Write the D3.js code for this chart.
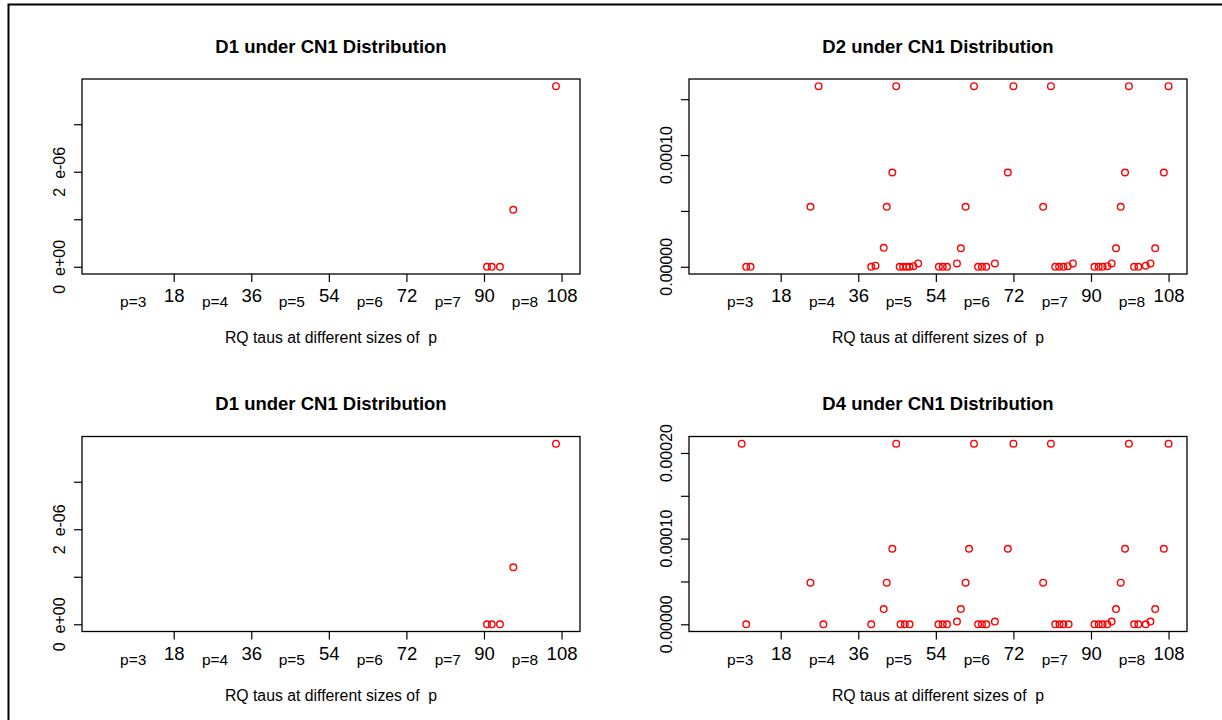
<!DOCTYPE html>
<html>
<head>
<meta charset="utf-8">
<script src="https://d3js.org/d3.v7.min.js"></script>
<style>
    body { margin: 0; background: #fff; }
    svg { font-family: "Liberation Sans", Arial, sans-serif; }
    .ylab { white-space: pre; }
</style>
</head>
<body>
<div id="chart"></div>
<script>
// x axis: tick values, group labels and where they sit
var xTicks = [18, 36, 54, 72, 90, 108];
var pLabels = ['p=3', 'p=4', 'p=5', 'p=6', 'p=7', 'p=8'];
var pPos = [8.6, 27.6, 45.4, 63.5, 81.6, 99.5];
var xRange = [1, 108];

// D1 under CN1 (same in both left panels)
var d1X = [90.7, 91.8, 93.7, 96.8, 106.7];
var d1Y = [0, 0, 0, 1.2e-6, 3.8e-6];

// D2 under CN1
var d2X = [10.0, 11.0, 24.9, 26.8, 39.0, 40.0, 41.9, 42.6, 43.9, 44.8,
           45.6, 46.4, 47.2, 47.9, 48.8, 49.9, 54.7, 55.6, 56.6, 58.9,
           59.8, 60.9, 62.85, 63.8, 64.7, 65.7, 67.7, 70.7, 72.0, 78.9,
           80.7, 81.7, 82.6, 83.6, 84.6, 85.8, 90.8, 91.8, 92.7, 93.8,
           94.8, 95.8, 96.9, 97.9, 98.8, 100.0, 101.0, 102.7, 103.8, 104.9,
           106.9, 108.0];
var d2Y = [0, 0, 5.37e-5, 1.616e-4, 0, 1e-6, 1.7e-5, 5.37e-5, 8.44e-5, 1.616e-4,
           0, 0, 0, 0, 5e-7, 3e-6, 0, 0, 0, 3e-6,
           1.65e-5, 5.37e-5, 1.616e-4, 0, 0, 0, 3e-6, 8.44e-5, 1.616e-4, 5.37e-5,
           1.616e-4, 0, 0, 0, 5e-7, 3e-6, 0, 0, 0, 5e-7,
           3e-6, 1.65e-5, 5.37e-5, 8.44e-5, 1.616e-4, 0, 0, 1e-6, 3e-6, 1.65e-5,
           8.44e-5, 1.616e-4];

// D4 under CN1
var d4X = [8.95, 10.0, 24.9, 27.9, 39.0, 41.9, 42.6, 43.9, 44.8, 45.8,
           46.8, 47.9, 54.6, 55.6, 56.6, 58.9, 59.8, 60.9, 61.7, 62.85,
           63.8, 64.7, 65.7, 67.7, 70.7, 72.0, 78.9, 80.7, 81.7, 82.7,
           83.6, 84.8, 90.8, 91.8, 92.7, 93.8, 94.8, 95.8, 96.9, 97.9,
           98.8, 100.0, 101.0, 102.7, 103.8, 104.9, 106.9, 108.0];
var d4Y = [2.108e-4, 0, 4.86e-5, 0, 0, 1.78e-5, 4.86e-5, 8.82e-5, 2.108e-4, 0,
           0, 0, 0, 0, 0, 3.1e-6, 1.78e-5, 4.86e-5, 8.82e-5, 2.108e-4,
           0, 0, 0, 3.1e-6, 8.82e-5, 2.108e-4, 4.86e-5, 2.108e-4, 0, 0,
           0, 0, 0, 0, 0, 0, 3.1e-6, 1.78e-5, 4.86e-5, 8.82e-5,
           2.108e-4, 0, 0, 0, 3.1e-6, 1.78e-5, 8.82e-5, 2.108e-4];

// y ticks and their labels ('' = tick only)
var d1Ticks = [0, 1e-6, 2e-6, 3e-6];
var d1TickLabels = ['0  e+00', '', '2  e-06', ''];
var d2Ticks = [0, 5e-5, 1e-4, 1.5e-4];
var d2TickLabels = ['0.00000', '', '0.00010', ''];
var d4Ticks = [0, 5e-5, 1e-4, 1.5e-4, 2e-4];
var d4TickLabels = ['0.00000', '', '0.00010', '', '0.00020'];

var W = 1222, H = 720;
var boxW = 498, boxH = 195;

var panels = [
    {title: 'D1 under CN1 Distribution', xs: d1X, ys: d1Y, ticks: d1Ticks, labels: d1TickLabels, left: 82, top: 79},
    {title: 'D2 under CN1 Distribution', xs: d2X, ys: d2Y, ticks: d2Ticks, labels: d2TickLabels, left: 689, top: 79},
    {title: 'D1 under CN1 Distribution', xs: d1X, ys: d1Y, ticks: d1Ticks, labels: d1TickLabels, left: 82, top: 436.5},
    {title: 'D4 under CN1 Distribution', xs: d4X, ys: d4Y, ticks: d4Ticks, labels: d4TickLabels, left: 689, top: 436.5}
];

var svg = d3.select('#chart').append('svg')
    .attr('width', W)
    .attr('height', H);

svg.append('rect').attr('width', W).attr('height', H).attr('fill', '#fff');

// outer device frame (left and top edges visible)
svg.append('path')
    .attr('d', 'M8.5,720V4.5H1222')
    .attr('fill', 'none')
    .attr('stroke', '#000')
    .attr('stroke-width', 2);

// R style 4% padding on a range
function pad(lo, hi) {
    var d = (hi - lo) * 0.04;
    return [lo - d, hi + d];
}

panels.forEach(function(p) {
    var x = d3.scaleLinear().domain(pad(xRange[0], xRange[1])).range([p.left, p.left + boxW]);
    var yMax = d3.max(p.ys);
    var y = d3.scaleLinear().domain(pad(0, yMax)).range([p.top + boxH, p.top]);
    var cx = p.left + boxW / 2;

    var g = svg.append('g').attr('class', 'panel');

    // title
    g.append('text')
        .attr('x', cx)
        .attr('y', p.top - 26.5)
        .attr('text-anchor', 'middle')
        .style('font-weight', 'bold')
        .style('font-size', '18.5px')
        .text(p.title);

    // x axis
    var xAxis = d3.axisBottom(x).tickValues(xTicks).tickSize(8).tickPadding(7).tickFormat(d3.format('d'));
    var gx = g.append('g')
        .attr('transform', 'translate(0,' + (p.top + boxH) + ')')
        .call(xAxis);
    gx.select('.domain').remove();
    gx.selectAll('.tick line').attr('stroke', '#000').attr('stroke-width', 1.2);
    gx.selectAll('.tick text')
        .attr('fill', '#000')
        .style('font-size', '18.5px')
        .style('font-family', '"Liberation Sans", Arial, sans-serif');

    // p=.. group labels
    g.selectAll('text.plab').data(pLabels).enter()
        .append('text')
        .attr('class', 'plab')
        .attr('x', function(d, i) { return x(pPos[i]); })
        .attr('y', p.top + boxH + 33)
        .attr('text-anchor', 'middle')
        .style('font-size', '15.5px')
        .text(function(d) { return d; });

    // x axis title
    g.append('text')
        .attr('x', cx)
        .attr('y', p.top + boxH + 69)
        .attr('text-anchor', 'middle')
        .style('font-size', '15.8px')
        .style('white-space', 'pre')
        .text('RQ taus at different sizes of  p');

    // y axis ticks
    var yAxis = d3.axisLeft(y).tickValues(p.ticks).tickSize(8).tickFormat('');
    var gy = g.append('g')
        .attr('transform', 'translate(' + p.left + ',0)')
        .call(yAxis);
    gy.select('.domain').remove();
    gy.selectAll('.tick line').attr('stroke', '#000').attr('stroke-width', 1.2);

    // rotated y labels
    var lx = p.left - 17;
    g.selectAll('text.ylab').data(p.ticks).enter()
        .append('text')
        .attr('class', 'ylab')
        .attr('x', lx)
        .attr('y', function(d) { return y(d); })
        .attr('transform', function(d) { return 'rotate(-90,' + lx + ',' + y(d) + ')'; })
        .attr('text-anchor', 'middle')
        .style('font-size', '16px')
        .text(function(d, i) { return p.labels[i]; });

    // plot box
    g.append('rect')
        .attr('x', p.left)
        .attr('y', p.top)
        .attr('width', boxW)
        .attr('height', boxH)
        .attr('fill', 'none')
        .attr('stroke', '#000')
        .attr('stroke-width', 1.3);

    // points
    g.selectAll('circle').data(p.xs).enter()
        .append('circle')
        .attr('cx', function(d) { return x(d); })
        .attr('cy', function(d, i) { return y(p.ys[i]); })
        .attr('r', 3.3)
        .attr('fill', 'none')
        .attr('stroke', '#ff0000')
        .attr('stroke-width', 1.4);
});
</script>
</body>
</html>
